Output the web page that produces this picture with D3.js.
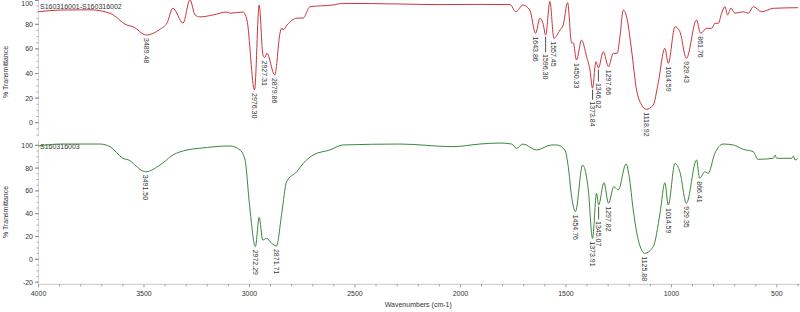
<!DOCTYPE html>
<html>
<head>
<meta charset="utf-8">
<script src="https://cdn.jsdelivr.net/npm/d3@7"></script>
<style>
  body { margin: 0; background: #fff; }
  .chart { width: 800px; height: 312px; }
  text { font-family: "Liberation Sans", Arial, sans-serif; font-size: 7px; fill: #333; }
</style>
</head>
<body>
<div class="chart"></div>
<script>
// sample names shown at top-left of each panel
let sampleNames = ["S160316001-S160316002", "S160316003"];

// x axis ticks (wavenumbers, cm-1)
let xTickValues = [4000, 3500, 3000, 2500, 2000, 1500, 1000, 500];
let yTicksTop = [0, 20, 40, 60, 80, 100];
let yTicksBottom = [-20, 0, 20, 40, 60, 80, 100];

// spectrum 1 (red), [wavenumber, %T]
let topSpectrum = [
    [4000, 90.2], [3898, 91.6], [3756, 91.8], [3661, 89], [3581, 79.4], [3552, 78], [3489, 71.3],
    [3424, 76], [3391, 81], [3363, 93], [3315, 81], [3282, 100], [3258, 87.6], [3235, 86],
    [3173, 87.6], [3107, 90], [3092, 89], [3031, 90], [3012, 83.5], [2976, 26.6], [2954, 95.7],
    [2936, 55], [2927, 53], [2918, 56.6], [2880, 38.8], [2855, 73], [2847, 77], [2841, 75.4],
    [2822, 79.4], [2775, 85], [2746, 85], [2713, 94.3], [2604, 95.7], [2557, 97], [2287, 96.5],
    [2097, 96], [1908, 96.2], [1765, 96], [1737, 90.2], [1704, 95.7], [1671, 91.6], [1644, 72.6],
    [1623, 85], [1609, 81], [1596, 71.3], [1576, 98.4], [1557, 68.6], [1528, 75.4], [1513, 79.4],
    [1492, 97.6], [1473, 64.8], [1465, 64.8], [1450, 51], [1426, 67.2], [1402, 53.7], [1386, 42.8],
    [1374, 28], [1358, 49.6], [1346, 44.5], [1323, 57.7], [1298, 45.5], [1276, 56.4], [1257, 56.4],
    [1244, 70], [1228, 91.6], [1209, 83.5], [1189, 59.1], [1165, 26.6], [1141, 14.4], [1119, 10.9],
    [1086, 14.4], [1063, 32], [1031, 60.5], [1015, 48.3], [983, 78], [960, 74], [929, 52.3],
    [881, 83.5], [862, 72.7], [833, 76.7], [809, 76.7], [794, 80.8], [778, 80.8], [762, 89],
    [746, 94.3], [734, 87.6], [718, 93], [699, 89], [660, 90.2], [636, 89], [612, 94.3],
    [572, 90.2], [517, 93], [400, 93.5]
];

// spectrum 2 (green)
let bottomSpectrum = [
    [4000, 99.4], [3898, 101.1], [3709, 101.1], [3661, 98.8], [3600, 88.6], [3566, 86.5], [3552, 84.2],
    [3491.5, 76.8], [3424, 82.7], [3363, 91.5], [3296, 95.9], [3235, 97.4], [3092, 99.4], [3045, 95.9],
    [3021, 87.1], [2999, 46.1], [2972, 11.1], [2954, 36.8], [2937, 16.9], [2918, 18.4], [2895, 14.0],
    [2872, 11.7], [2847, 40.4], [2824, 68.1], [2776, 76.8], [2745, 84.2], [2698, 91.5], [2619, 95.9],
    [2557, 100.3], [2287, 101.1], [2036, 98.8], [1908, 101.1], [1813, 102], [1757, 101.1], [1734, 97.4],
    [1704, 101.1], [1639, 95.9], [1568, 100.3], [1544, 100.3], [1505, 95.9], [1489, 81.2], [1473, 54.9],
    [1455, 41.8], [1421, 82.7], [1394, 60.8], [1374, 18.4], [1355, 57.9], [1345, 47.6], [1320, 67.2],
    [1298, 49.1], [1273, 63.7], [1252, 60.8], [1215, 83.6], [1200, 72.5], [1181, 43.2], [1157, 16.9],
    [1126, 5.3], [1086, 11.1], [1054, 40.4], [1031, 67.2], [1015, 47.6], [983, 84.2], [960, 76.8],
    [929, 49.1], [881, 87.1], [866, 71.1], [841, 76.8], [826, 75.4], [794, 93.0], [755, 101.1],
    [707, 100.3], [660, 96.5], [612, 94.4], [590, 87.7], [517, 88.6], [509, 91.5], [501, 88.6],
    [430, 88.6], [422, 90.6], [414, 87.1], [400, 88.6]
];

// peak labels
let topPeaks = ["3489.48", "2976.30", "2927.31", "2879.86", "1643.86", "1596.30", "1557.45", "1450.33",
    "1373.84", "1346.02", "1297.66", "1118.92", "1014.59", "929.43", "861.76"];
let bottomPeaks = ["3491.50", "2972.29", "2871.71", "1454.76", "1373.91", "1345.07", "1297.82",
    "1125.88", "1014.59", "929.35", "866.41"];

// layout bits (leader line lengths for crowded labels)
let leaders = [
    { "1596.30": 16, "1373.84": 10, "1346.02": 12 },
    { "1345.07": 13 }
];

let chart = {};

function init() {
    chart.panels = [
        { name: sampleNames[0], data: topSpectrum, peaks: topPeaks, ticks: yTicksTop, color: "#c8363c",
          domain: [0, 100], range: [122.7, -0.3], top: 0, bottom: 136, titleY: 72 },
        { name: sampleNames[1], data: bottomSpectrum, peaks: bottomPeaks, ticks: yTicksBottom, color: "#3c873a",
          domain: [0, 100], range: [259.3, 145.3], top: 140, bottom: 284.3, titleY: 212 }
    ];
    setScales();
    appendElements();
}

function setScales() {
    chart.xScale = d3.scaleLinear()
        .domain([4000, 400])
        .range([38.5, 798]);

    chart.panels.forEach(p => {
        p.yScale = d3.scaleLinear().domain(p.domain).range(p.range);
        p.line = d3.line()
            .x(d => chart.xScale(d[0]))
            .y(d => p.yScale(d[1]))
            .curve(d3.curveMonotoneX);
    });
}

function nearestValue(data, wn) {
    let best = data[0];
    data.forEach(d => {
        if (Math.abs(d[0] - wn) < Math.abs(best[0] - wn)) best = d;
    });
    return best[1];
}

function appendElements() {
    chart.svg = d3.select(".chart").append("svg")
        .attr("width", 800)
        .attr("height", 312);

    chart.panels.forEach((p, i) => {
        let g = chart.svg.append("g").attr("class", "panel");
        let yAxisX = chart.xScale(4000);

        // y axis line + ticks
        g.append("line")
            .attr("x1", yAxisX).attr("x2", yAxisX)
            .attr("y1", p.top).attr("y2", p.bottom)
            .attr("stroke", "#d4d4d4");

        let v0 = p.yScale.invert(p.bottom), v1 = p.yScale.invert(p.top);
        let minor = d3.range(Math.ceil(v0 / 5) * 5, v1, 5);
        g.selectAll(".minor").data(minor).enter().append("line")
            .attr("x1", yAxisX - 2).attr("x2", yAxisX)
            .attr("y1", d => p.yScale(d)).attr("y2", d => p.yScale(d))
            .attr("stroke", "#aaa");

        g.selectAll(".major").data(p.ticks).enter().append("line")
            .attr("x1", yAxisX - 3.5).attr("x2", yAxisX)
            .attr("y1", d => Math.max(0.5, p.yScale(d))).attr("y2", d => Math.max(0.5, p.yScale(d)))
            .attr("stroke", "#888");

        g.selectAll(".ytick").data(p.ticks).enter().append("text")
            .attr("x", 33)
            .attr("y", d => Math.max(4, p.yScale(d)))
            .attr("dy", "0.35em")
            .attr("text-anchor", "end")
            .text(d => d);

        g.append("text")
            .attr("transform", `translate(7.5,${p.titleY}) rotate(-90)`)
            .attr("text-anchor", "middle")
            .text("% Transmittance");

        g.append("text")
            .attr("x", 40)
            .attr("y", p.top + 8.5)
            .text(p.name);

        // spectrum
        g.append("path")
            .attr("d", p.line(p.data))
            .attr("fill", "none")
            .attr("stroke", p.color)
            .attr("stroke-width", 1);

        // peak labels
        let peakG = g.selectAll(".peak").data(p.peaks).enter().append("g")
            .attr("class", "peak")
            .attr("transform", d => `translate(${chart.xScale(+d)},${p.yScale(nearestValue(p.data, +d))})`);

        peakG.filter(d => leaders[i][d])
            .append("line")
            .attr("x1", 0).attr("x2", 0)
            .attr("y1", 1.5).attr("y2", d => leaders[i][d] + 1.5)
            .attr("stroke", "#555")
            .attr("stroke-width", 1);

        peakG.append("text")
            .attr("transform", d => `translate(0,${(leaders[i][d] || 0) + 3}) rotate(90)`)
            .attr("dy", "0.35em")
            .text(d => d);
    });

    // x axis (bottom panel only)
    let axisY = chart.panels[1].bottom;
    let xg = chart.svg.append("g");
    xg.append("line")
        .attr("x1", chart.xScale(4000)).attr("x2", 800)
        .attr("y1", axisY).attr("y2", axisY)
        .attr("stroke", "#c8c8c8");

    xg.selectAll(".xminor").data(d3.range(4000, 399, -100)).enter().append("line")
        .attr("x1", d => chart.xScale(d)).attr("x2", d => chart.xScale(d))
        .attr("y1", axisY).attr("y2", d => axisY + (d % 500 === 0 ? 3 : 2))
        .attr("stroke", "#999");

    xg.selectAll(".xtick").data(xTickValues).enter().append("text")
        .attr("x", d => chart.xScale(d))
        .attr("y", axisY + 12)
        .attr("text-anchor", "middle")
        .text(d => d);

    xg.append("text")
        .attr("x", (chart.xScale(4000) + 798) / 2)
        .attr("y", 306.5)
        .attr("text-anchor", "middle")
        .text("Wavenumbers (cm-1)");
}

init();
</script>
</body>
</html>
